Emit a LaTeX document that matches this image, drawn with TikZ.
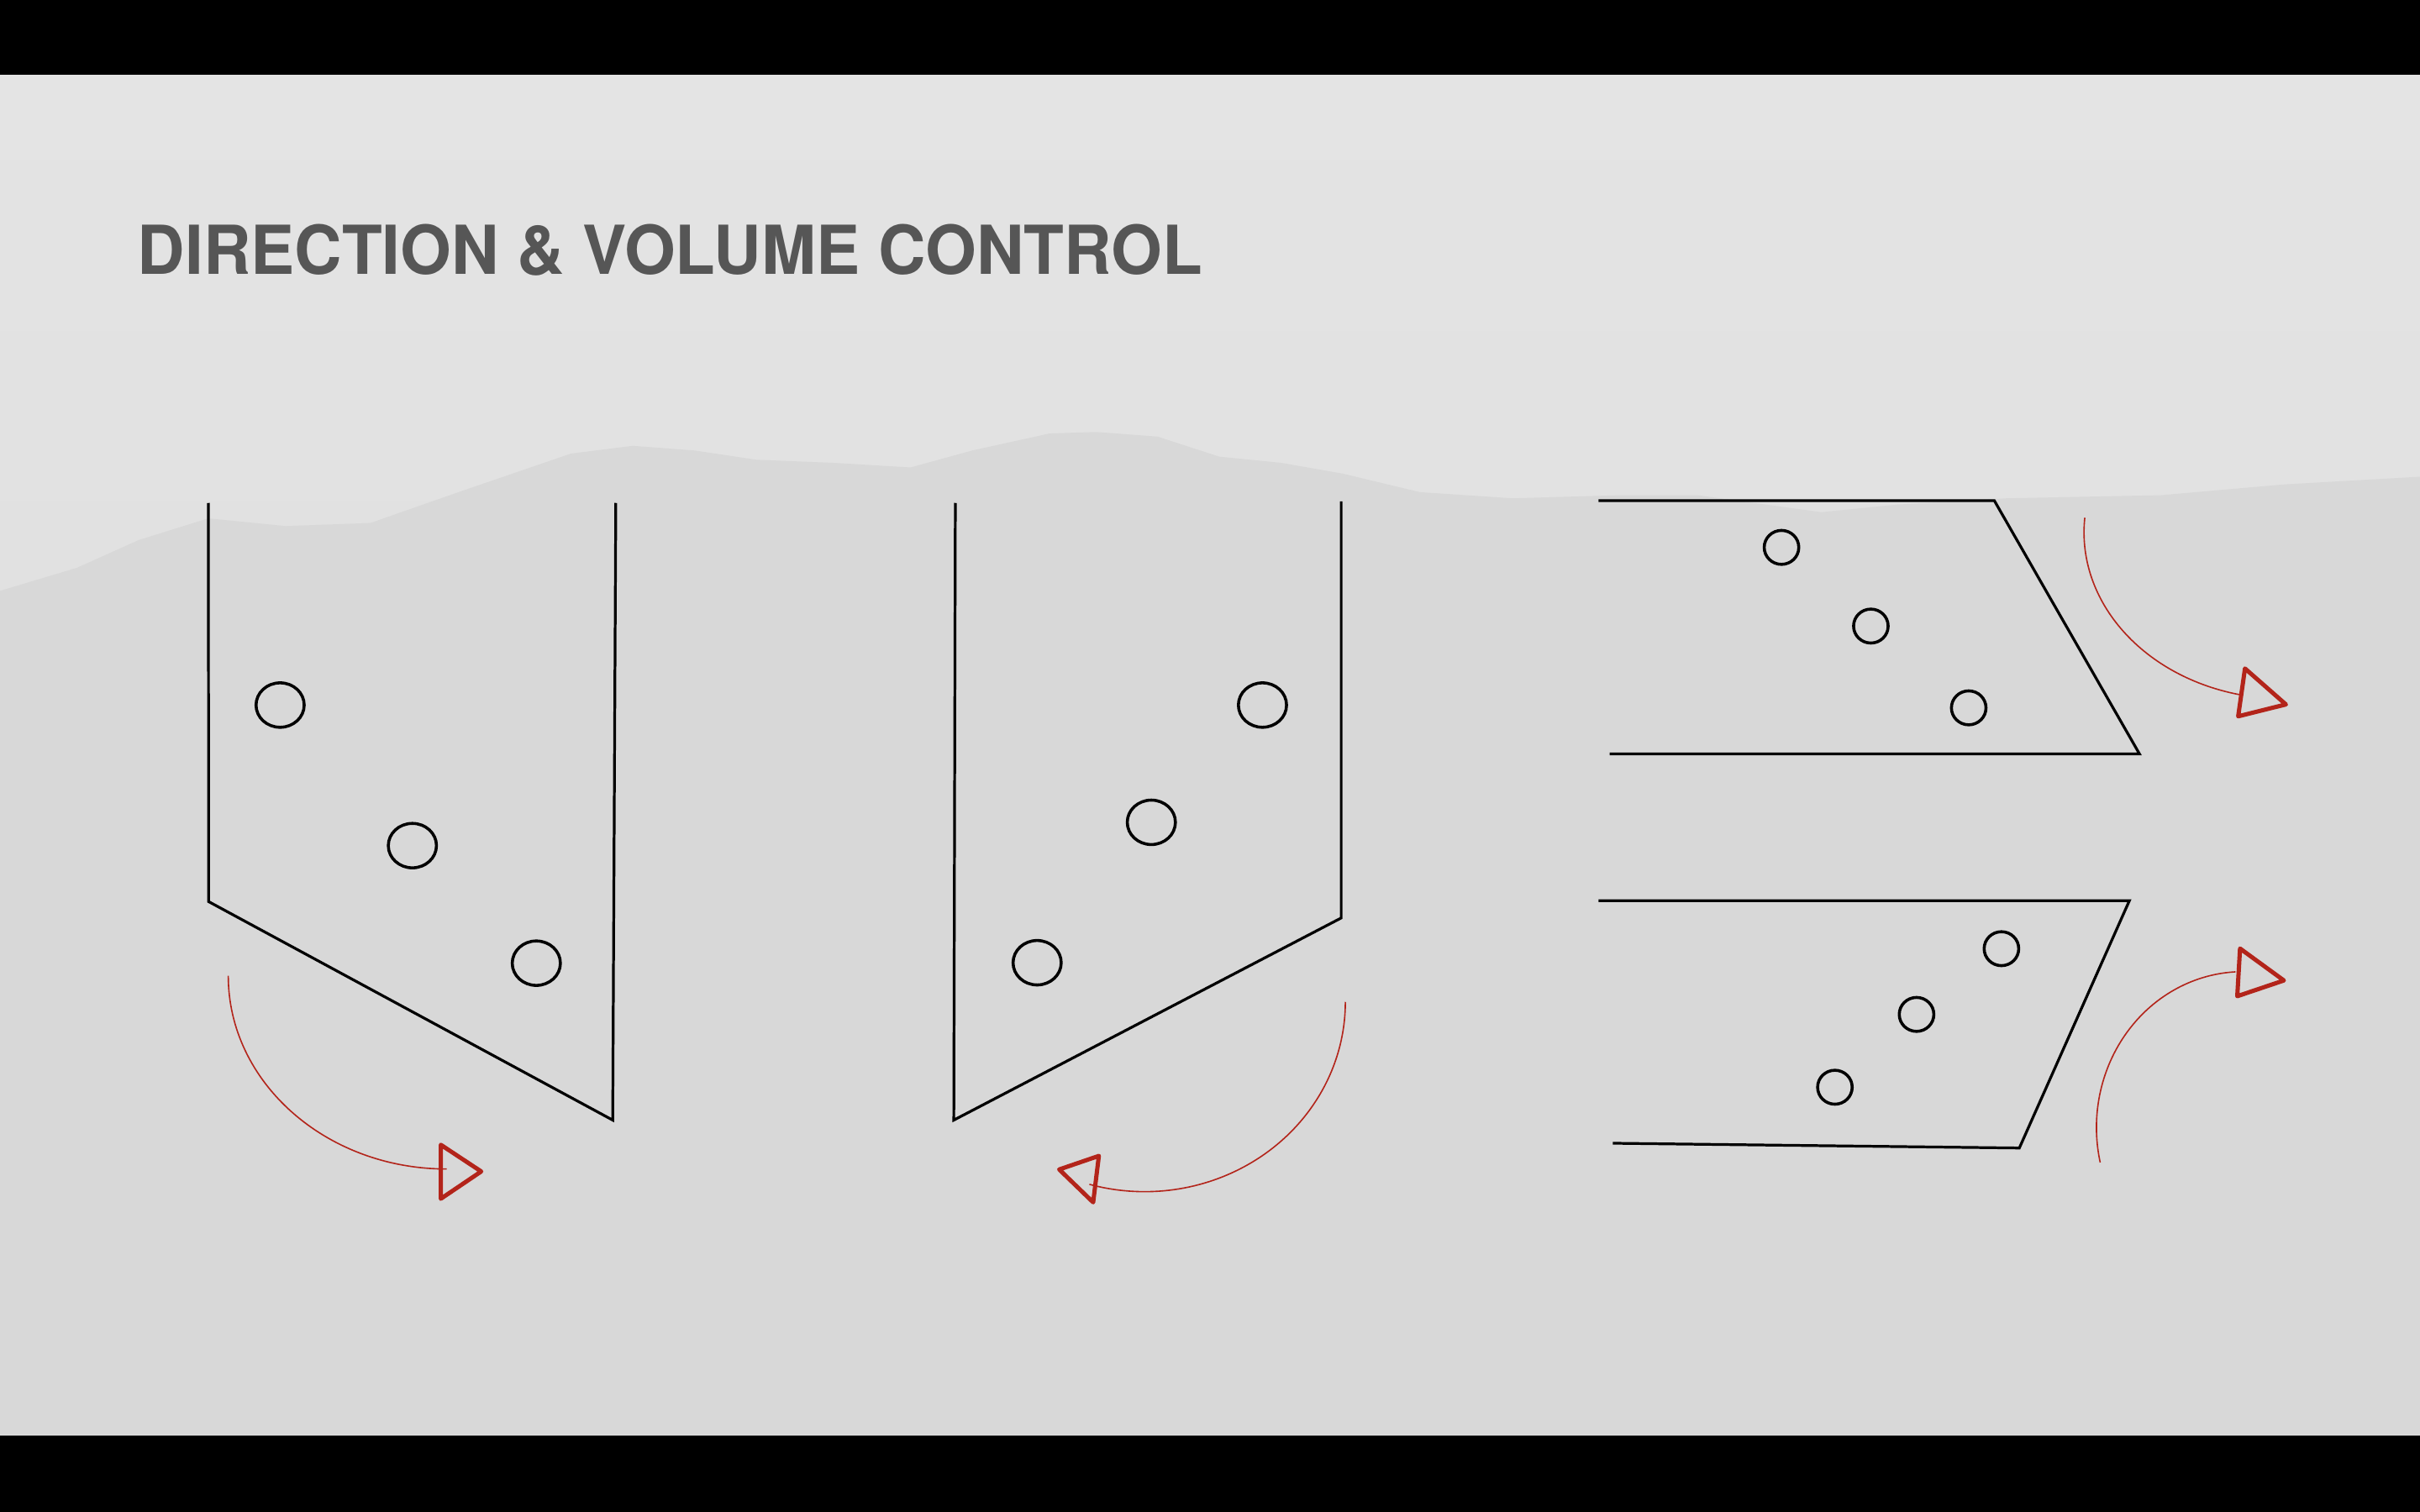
\documentclass[tikz,border=0pt]{standalone}
\usepackage{fontspec}
\usepackage{xcolor}
\usepackage{tikz}
\usetikzlibrary{calc,backgrounds}
\newfontfamily\titlefont[FakeStretch=0.973]{TeX Gyre Heros}
\definecolor{slidetop}{HTML}{E4E4E4}
\definecolor{slidelow}{HTML}{DCDCDC}
\definecolor{papergray}{HTML}{D8D8D8}
\definecolor{titlegray}{HTML}{565656}
\definecolor{flowred}{HTML}{B3241A}

\begin{document}
\begin{tikzpicture}[x=0.01cm,y=-0.01cm,
	wall/.style={draw=black,line width=0.5pt,line join=miter},
	hole/.style={draw=black,line width=0.55pt},
	flow/.style={draw=flowred,line width=0.25pt},
	flowtip/.style={draw=flowred,line width=0.78pt,line join=round}]
\useasboundingbox (0,0) rectangle (1568,980);
\fill[black] (0,0) rectangle (1568,980);
\shade[top color=slidetop,bottom color=slidelow] (0,49) rectangle (1568,930);
\fill[papergray] (0,383) -- (50,368) -- (90,350) -- (135,336) -- (185,341) -- (240,339)
	-- (300,318) -- (370,294) -- (410,289) -- (450,292) -- (490,298) -- (540,300)
	-- (590,303) -- (630,292) -- (680,281) -- (710,280) -- (750,283) -- (790,296)
	-- (830,300) -- (870,307) -- (920,319) -- (980,323) -- (1050,321) -- (1100,321)
	-- (1180,332) -- (1230,327) -- (1300,323) -- (1400,321) -- (1480,314) -- (1568,309)
	-- (1568,930) -- (0,930) -- cycle;

\node[anchor=base west,inner sep=0,text=titlegray,font=\titlefont\bfseries\fontsize{12.44}{14}\selectfont] (title) at (88.5,177.9) {DIRECTION \& VOLUME CONTROL};

\draw[wall] (135,326) -- (135.2,584.4) -- (397,726) -- (399,326);
\draw[wall] (619,326) -- (618,726) -- (869,595) -- (869,325);
\draw[wall] (1035.7,324.5) -- (1292.2,324.5) -- (1386.2,488.6) -- (1043,488.6);
\draw[wall] (1035.7,583.8) -- (1379.7,583.8) -- (1308.4,744.1) -- (1045,741);

\foreach \x/\y in {181.5/457,267.2/548.1,347.5/624.3,818/457,746/533,672/624}
	\draw[hole] (\x,\y) ellipse[x radius=15.6,y radius=14.4];
\foreach \x/\y in {1154.3/354.8,1212.2/405.8,1275.6/458.8,1296.8/614.9,1241.8/657.5,1188.9/704.7}
	\draw[hole] (\x,\y) ellipse[x radius=11.2,y radius=11];

\draw[flow] (147.9,632.5) arc[start angle=180,end angle=90,x radius=141.6,y radius=125.2];
\draw[flow] (871.7,649.4) arc[start angle=0,end angle=106,x radius=130,y radius=123];
\draw[flow] (1350.8,335.6) arc[start angle=185,end angle=102,x radius=130,y radius=108];
\draw[flow] (1360.8,753.5) arc[start angle=167,end angle=267,x radius=95,y radius=101];

\draw[flowtip] (285.6,742) -- (285.6,777) -- (311.8,759.3) -- cycle;
\draw[flowtip] (712,749.2) -- (686.3,758) -- (708.3,779.3) -- cycle;
\draw[flowtip] (1454.6,433.3) -- (1450.2,464.3) -- (1481.1,456.6) -- cycle;
\draw[flowtip] (1451.4,614.8) -- (1449.6,645.7) -- (1479.8,635.5) -- cycle;
\end{tikzpicture}
\end{document}
